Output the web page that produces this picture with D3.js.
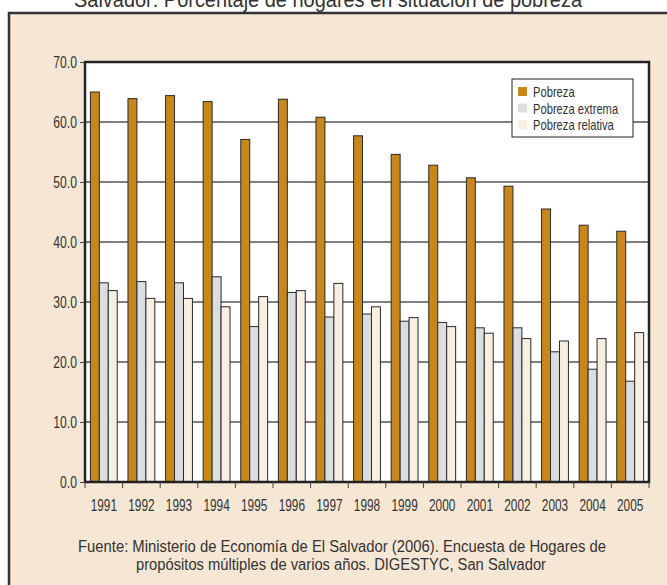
<!DOCTYPE html>
<html>
<head>
<meta charset="utf-8">
<script src="https://cdn.jsdelivr.net/npm/d3@7"></script>
<style>
body { margin: 0; background: #fff; }
svg text { font-family: "Liberation Sans", Arial, sans-serif; fill: #333; }
</style>
</head>
<body>
<svg id="chart" width="667" height="585"></svg>
<script>
// data
var years = ["1991","1992","1993","1994","1995","1996","1997","1998","1999","2000","2001","2002","2003","2004","2005"];
var series = ["Pobreza", "Pobreza extrema", "Pobreza relativa"];
var pobreza = [65.0, 63.9, 64.4, 63.4, 57.1, 63.8, 60.8, 57.7, 54.6, 52.8, 50.7, 49.3, 45.5, 42.8, 41.8];
var extrema = [33.2, 33.4, 33.2, 34.2, 25.9, 31.6, 27.5, 28.0, 26.8, 26.6, 25.7, 25.7, 21.7, 18.8, 16.8];
var relativa = [31.9, 30.6, 30.6, 29.2, 30.9, 31.9, 33.1, 29.2, 27.4, 25.9, 24.8, 23.9, 23.5, 23.9, 24.9];
var yTicks = [0, 10, 20, 30, 40, 50, 60, 70];
var colors = ["#c8871a", "#dcdde0", "#f8eee1"];

var svg = d3.select("#chart");

// squeeze text horizontally around its own x (the original uses a condensed face)
function condense(sel, s){
    sel.attr("transform", function(){
        var px = +(d3.select(this).attr("x") || 0);
        return "translate(" + px + ",0) scale(" + s + ",1) translate(" + (-px) + ",0)";
    });
}

// cut-off title on top
svg.append("text")
    .attr("x", 74).attr("y", 7)
    .attr("textLength", 508).attr("lengthAdjust", "spacingAndGlyphs")
    .style("font-size", "22px")
    .text("Salvador: Porcentaje de hogares en situación de pobreza");

// frame
svg.append("rect")
    .attr("x", 9).attr("y", 13)
    .attr("width", 680).attr("height", 600)
    .attr("fill", "#f6e7d4")
    .attr("stroke", "#333").attr("stroke-width", 2.5);

var pLeft = 85, pRight = 649, pTop = 62, pBottom = 482;

var x = d3.scaleBand().domain(years).range([pLeft, pRight]);
var xs = d3.scaleBand().domain(series).range([0, x.bandwidth()]).paddingOuter(0.6);
var y = d3.scaleLinear().domain([0, 70]).range([pBottom, pTop]);

// plot background
svg.append("rect")
    .attr("x", pLeft).attr("y", pTop)
    .attr("width", pRight - pLeft).attr("height", pBottom - pTop)
    .attr("fill", "#fff");

// gridlines
svg.append("g").selectAll("line")
    .data(yTicks.slice(1, -1))
    .enter().append("line")
    .attr("x1", pLeft).attr("x2", pRight)
    .attr("y1", function(d){ return y(d); })
    .attr("y2", function(d){ return y(d); })
    .attr("stroke", "#555").attr("stroke-width", 1.5);

// bars
var rows = years.map(function(yr, i){
    return { year: yr, vals: [pobreza[i], extrema[i], relativa[i]] };
});
var groups = svg.append("g").selectAll("g")
    .data(rows)
    .enter().append("g")
    .attr("transform", function(d){ return "translate(" + x(d.year) + ",0)"; });

groups.selectAll("rect")
    .data(function(d){ return d.vals.map(function(v, j){ return { s: series[j], v: v, j: j }; }); })
    .enter().append("rect")
    .attr("x", function(d){ return xs(d.s); })
    .attr("y", function(d){ return y(d.v); })
    .attr("width", xs.bandwidth())
    .attr("height", function(d){ return pBottom - y(d.v); })
    .attr("fill", function(d){ return colors[d.j]; })
    .attr("stroke", "#2a2a2a").attr("stroke-width", 1);

// plot border
svg.append("rect")
    .attr("x", pLeft).attr("y", pTop)
    .attr("width", pRight - pLeft).attr("height", pBottom - pTop)
    .attr("fill", "none")
    .attr("stroke", "#222").attr("stroke-width", 2.5);

// y axis
var yAxis = svg.append("g")
    .attr("transform", "translate(" + pLeft + ",0)")
    .call(d3.axisLeft(y).tickValues(yTicks).tickFormat(d3.format(".1f")).tickSize(5).tickPadding(3));
yAxis.select(".domain").remove();
yAxis.selectAll("line").attr("stroke", "#444");
yAxis.selectAll("text").style("font-size", "16px").attr("fill", "#333").call(condense, 0.76);

// x axis
var xAxis = svg.append("g")
    .attr("transform", "translate(0," + pBottom + ")")
    .call(d3.axisBottom(x).tickSize(0).tickPadding(18));
xAxis.select(".domain").remove();
xAxis.selectAll("text").style("font-size", "16px").attr("fill", "#333").call(condense, 0.74);
svg.append("g").selectAll("line")
    .data(years.concat(["end"]))
    .enter().append("line")
    .attr("x1", function(d, i){ return pLeft + i * x.step(); })
    .attr("x2", function(d, i){ return pLeft + i * x.step(); })
    .attr("y1", pBottom).attr("y2", pBottom + 6)
    .attr("stroke", "#444");

// legend
var lg = svg.append("g").attr("transform", "translate(512,79)");
lg.append("rect")
    .attr("width", 121).attr("height", 58)
    .attr("fill", "#fff").attr("stroke", "#222").attr("stroke-width", 1);
var li = lg.selectAll("g.item")
    .data(series)
    .enter().append("g").attr("class", "item")
    .attr("transform", function(d, i){ return "translate(6," + (8 + i * 16.5) + ")"; });
li.append("rect")
    .attr("width", 9).attr("height", 9)
    .attr("fill", function(d, i){ return colors[i]; });
li.append("text")
    .attr("x", 15).attr("y", 10)
    .style("font-size", "14px")
    .text(function(d){ return d; })
    .call(condense, 0.8);

// source
svg.append("text")
    .attr("x", 78).attr("y", 552)
    .attr("textLength", 528).attr("lengthAdjust", "spacingAndGlyphs")
    .style("font-size", "16px")
    .text("Fuente: Ministerio de Economía de El Salvador (2006). Encuesta de Hogares de");
svg.append("text")
    .attr("x", 136).attr("y", 570)
    .attr("textLength", 410).attr("lengthAdjust", "spacingAndGlyphs")
    .style("font-size", "16px")
    .text("propósitos múltiples de varios años. DIGESTYC, San Salvador");
</script>
</body>
</html>
